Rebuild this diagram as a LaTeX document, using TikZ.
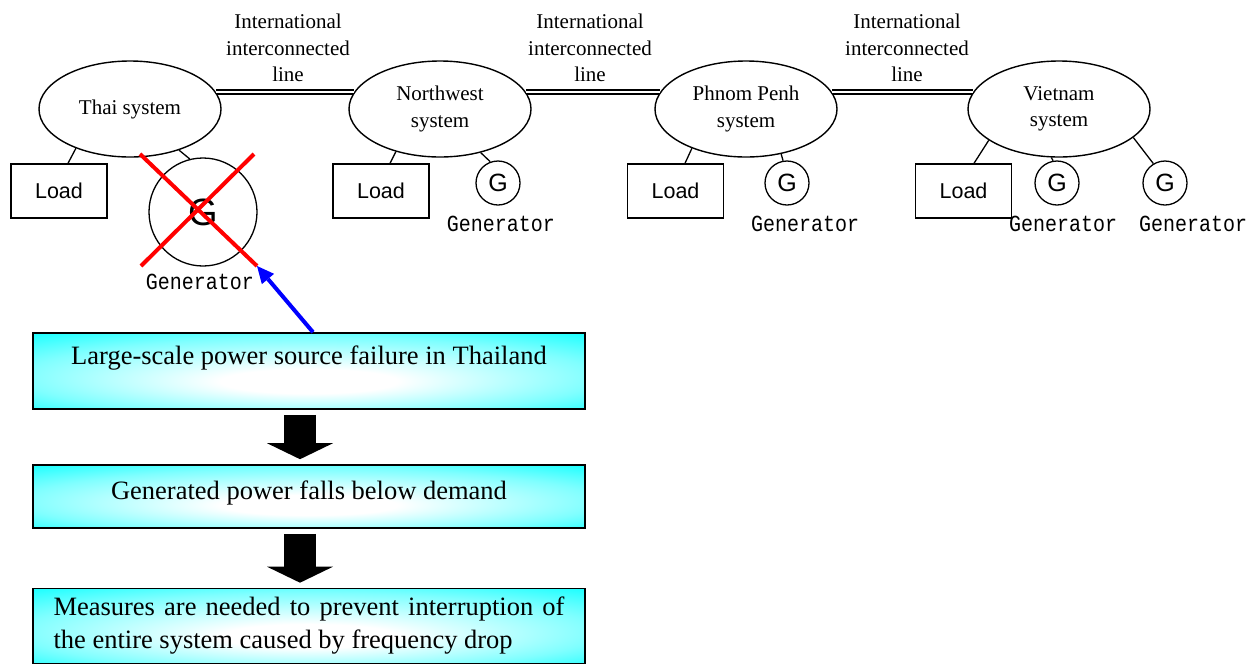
\documentclass[tikz,border=0pt]{standalone}
\usepackage{fontspec}
\setmainfont{Liberation Serif}
\setsansfont{Liberation Sans}
\setmonofont{Liberation Mono}
\usetikzlibrary{arrows.meta,shapes.geometric,calc}

% soft white glow in the middle of the cyan flow boxes
\pgfdeclareradialshading{boxglow}{\pgfpoint{0bp}{-8bp}}{%
  color(0bp)=(white); color(8bp)=(white); color(26bp)=(cyan!50!white);
  color(40bp)=(cyan); color(50bp)=(cyan)}

% generator captions are set in a tall, narrow monospaced face
\newcommand\gencaption{\scalebox{1}[1.15]{Generator}}

\begin{document}
\begin{tikzpicture}[x=1pt,y=-1pt,
  sysnode/.style={ellipse, draw, line width=1.4pt, minimum width=182pt,
    minimum height=96pt, inner sep=0pt, align=center,
    font=\fontsize{21}{26.5}\selectfont},
  loadbox/.style={rectangle, draw, line width=1.4pt, minimum width=96pt,
    minimum height=54pt, inner sep=0pt, font=\sffamily\fontsize{21.5}{25}\selectfont},
  gensmall/.style={circle, draw, line width=1.3pt, minimum size=44pt,
    inner sep=0pt, font=\sffamily\fontsize{25}{28}\selectfont},
  genbig/.style={circle, draw, line width=1.3pt, minimum size=108pt,
    inner sep=0pt, font=\sffamily\fontsize{38}{42}\selectfont},
  genlabel/.style={inner sep=0pt, font=\ttfamily\fontsize{20}{24}\selectfont},
  linelabel/.style={align=center, inner sep=0pt, font=\fontsize{21}{26.5}\selectfont},
  flowbox/.style={rectangle, draw, line width=1.6pt, shading=boxglow,
    minimum width=552pt, inner sep=0pt},
  flowtext/.style={inner sep=0pt, font=\fontsize{26.5}{33}\selectfont},
  tie/.style={line width=1.3pt},
  intercon/.style={line width=1.7pt, double=white, double distance=2.4pt},
  bigarrow/.style={line width=32pt, line cap=butt, shorten <=5pt, shorten >=5pt,
    -{Triangle[length=16pt, width=66pt, line width=0pt]}},
  cross/.style={line width=4pt, red},
  cause/.style={line width=4pt, blue, -{Triangle[length=17pt, width=16pt, line width=0pt]}}
]
\useasboundingbox (0,0) rectangle (1260,665);

% power systems
\node[sysnode] (thai) at (130,109) {Thai system};
\node[sysnode] (nw) at (440,109) {Northwest\\system};
\node[sysnode] (pp) at (746,109) {Phnom Penh\\system};
\node[sysnode] (vn) at (1059,109) {Vietnam\\system};

% international interconnected lines
\draw[intercon] (thai.11) -- (nw.169);
\draw[intercon] (nw.11) -- (pp.169);
\draw[intercon] (pp.11) -- (vn.169);
\node[linelabel] (lab1) at (288,48) {International\\interconnected\\line};
\node[linelabel] (lab2) at (590,48) {International\\interconnected\\line};
\node[linelabel] (lab3) at (907,48) {International\\interconnected\\line};

% loads
\node[loadbox] (load1) at (59,191) {Load};
\node[loadbox] (load2) at (381,191) {Load};
\node[loadbox] (load3) at (675.5,191) {Load};
\node[loadbox] (load4) at (963.5,191) {Load};
\draw[tie] (thai.216) -- ([xshift=9pt]load1.north);
\draw[tie] (nw.224) -- ([xshift=9pt]load2.north);
\draw[tie] (pp.216) -- ([xshift=9.5pt]load3.north);
\draw[tie] (vn.204) -- ([xshift=10.5pt]load4.north);

% generators
\node[genbig] (g1) at (203,212) {G};
\node[gensmall] (g2) at (498,183) {G};
\node[gensmall] (g3) at (787,183) {G};
\node[gensmall] (g4) at (1057,183) {G};
\node[gensmall] (g5) at (1165,183) {G};
\draw[tie] (thai.320) -- (g1.104);
\draw[tie] (nw.313) -- (g2.110);
\draw[tie] (pp.308) -- (g3.100);
\draw[tie] (vn.261) -- (g4.100);
\draw[tie] (vn.339) -- (g5.121);
\node[genlabel] (gl1) at (200,282) {\gencaption};
\node[genlabel] (gl2) at (501,224) {\gencaption};
\node[genlabel] (gl3) at (805,224) {\gencaption};
\node[genlabel] (gl4) at (1063,224) {\gencaption};
\node[genlabel] (gl5) at (1193,224) {\gencaption};

% the failed Thai generator is crossed out
\coordinate (xa) at (140,154);
\coordinate (xb) at (257,266);
\coordinate (xc) at (254,154);
\coordinate (xd) at (141,266);
\draw[cross] (xa) -- (xb);
\draw[cross] (xc) -- (xd);

% consequence chain
\node[flowbox, minimum height=76pt] (box1) at (309,371) {};
\node[flowtext] (t1) at ([yshift=13pt]box1.center) {Large-scale power source failure in Thailand};
\node[flowbox, minimum height=63pt] (box2) at (309,496.5) {};
\node[flowtext] (t2) at ([yshift=4pt]box2.center) {Generated power falls below demand};
\node[flowbox, minimum height=75pt] (box3) at (309,626) {};
\node[flowtext, text width=511pt, align=justify] (t3) at (box3.center)
  {Measures are needed to prevent interruption of\linebreak the entire system caused by frequency drop};

\draw[cause] ([xshift=4pt]box1.north) -- (xb);
\draw[bigarrow] ([xshift=-9pt]box1.south) -- ([xshift=-9pt]box2.north);
\draw[bigarrow] ([xshift=-9pt]box2.south) -- ([xshift=-9pt]box3.north);
\end{tikzpicture}
\end{document}
